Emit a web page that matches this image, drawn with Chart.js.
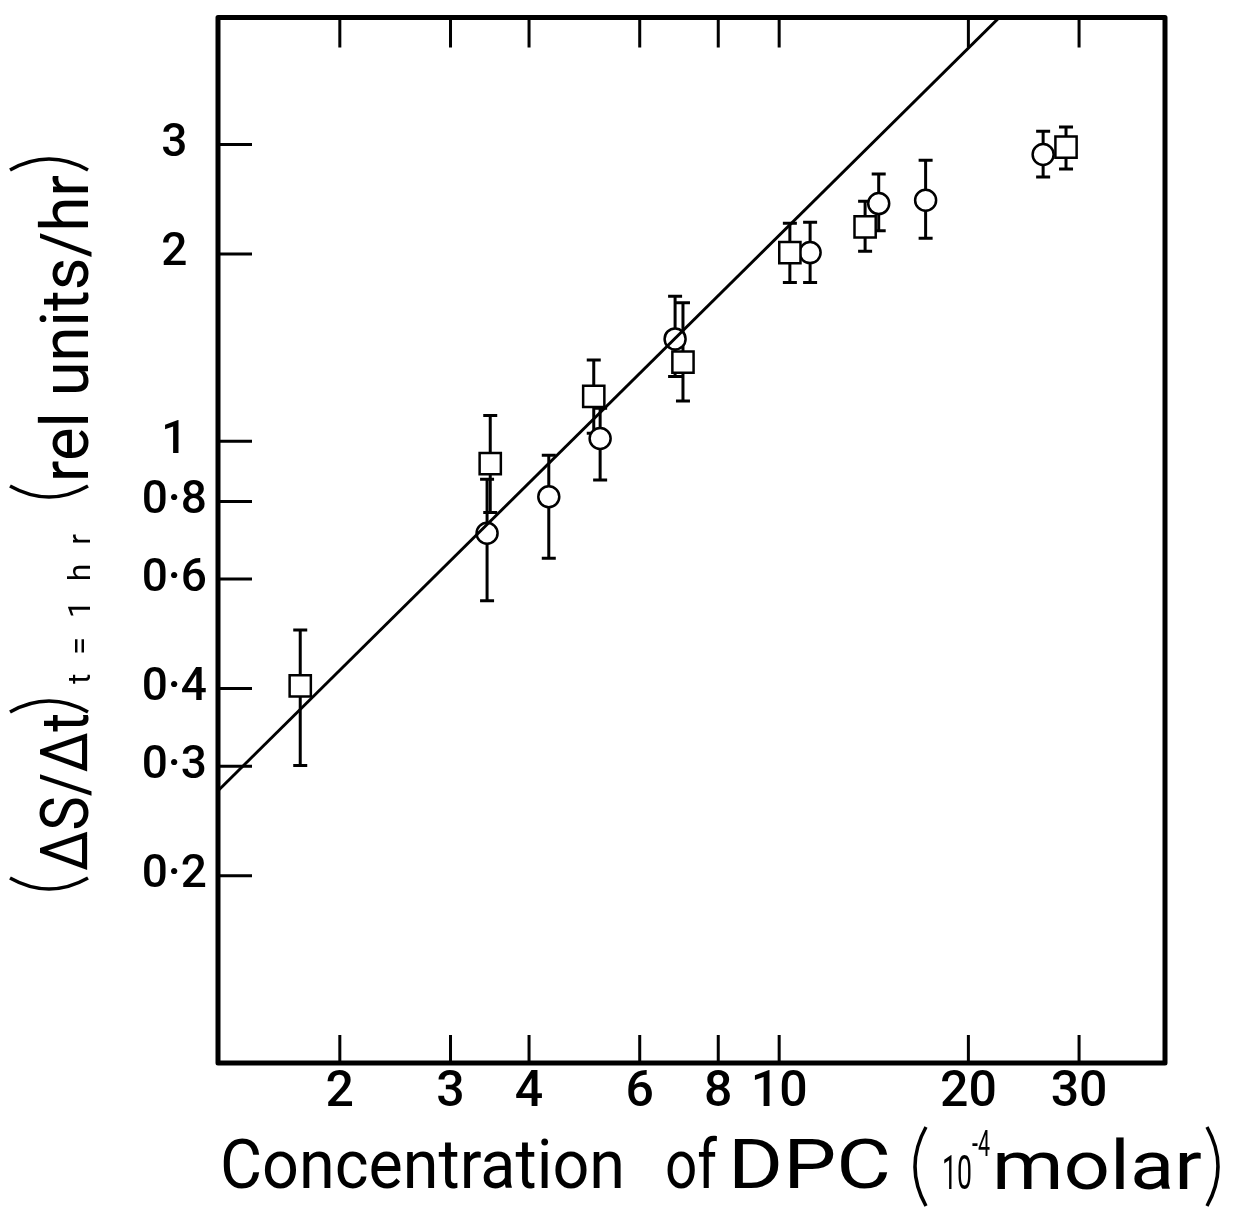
<!DOCTYPE html>
<html>
<head>
<meta charset="utf-8">
<script src="https://cdn.jsdelivr.net/npm/chart.js@4.4.1/dist/chart.umd.min.js"></script>
<style>
  html, body { margin: 0; padding: 0; background: #fff; }
  #wrap { width: 1236px; height: 1209px; }
</style>
</head>
<body>
<div id="wrap"><canvas id="dpcChart" width="1236" height="1209"></canvas></div>
<script>
// square markers: concentration (10^-4 M), rate, error limits
const SQUARE_CONC = [1.73, 3.47, 5.07, 7.03, 10.4, 13.7, 28.6];
const SQUARE_RATE = [0.404, 0.92, 1.18, 1.34, 2.01, 2.21, 2.97];
const SQUARE_HIGH = [0.497, 1.10, 1.35, 1.67, 2.24, 2.43, 3.20];
const SQUARE_LOW  = [0.301, 0.768, 1.03, 1.16, 1.80, 2.02, 2.74];

// circle markers
const CIRCLE_CONC = [3.43, 4.30, 5.19, 6.83, 11.2, 14.4, 17.1, 26.3];
const CIRCLE_RATE = [0.711, 0.814, 1.01, 1.46, 2.01, 2.41, 2.44, 2.89];
const CIRCLE_HIGH = [0.868, 0.949, 1.13, 1.71, 2.25, 2.69, 2.83, 3.15];
const CIRCLE_LOW  = [0.554, 0.648, 0.866, 1.27, 1.80, 2.18, 2.12, 2.66];

// fitted straight line (ends)
const FIT_CONC = [1.28, 22.4];
const FIT_RATE = [0.274, 4.8];

const X_TICKS = [2, 3, 4, 6, 8, 10, 20, 30];
const X_TICK_LABELS = ['2', '3', '4', '6', '8', '10', '20', '30'];
const Y_TICKS = [0.2, 0.3, 0.4, 0.6, 0.8, 1, 2, 3];
const Y_TICK_LABELS = ['0·2', '0·3', '0·4', '0·6', '0·8', '1', '2', '3'];

const FONT = 'Roboto, "DejaVu Sans", sans-serif';

function fitText(ctx, text, x, y, width) {
    const w = ctx.measureText(text).width;
    ctx.save();
    ctx.translate(x, y);
    ctx.scale(width / w, 1);
    ctx.fillText(text, 0, 0);
    ctx.restore();
}

// spread characters over a given width
function spacedText(ctx, text, x, y, width) {
    const chars = text.split('');
    const total = chars.reduce((s, c) => s + ctx.measureText(c).width, 0);
    const gap = (width - total) / (chars.length - 1);
    let cx = x;
    chars.forEach(c => {
        ctx.fillText(c, cx, y);
        cx += ctx.measureText(c).width + gap;
    });
}

function paren(ctx, endX, ctrlX, y1, y2) {
    ctx.beginPath();
    ctx.moveTo(endX, y1);
    ctx.quadraticCurveTo(ctrlX, (y1 + y2) / 2, endX, y2);
    ctx.stroke();
}

const errorBars = {
    id: 'errorBars',
    beforeDatasetsDraw(chart) {
        const {ctx, scales: {x, y}} = chart;
        ctx.save();
        ctx.strokeStyle = '#000';
        ctx.lineWidth = 3;
        const draw = (xs, lo, hi) => {
            xs.forEach((v, i) => {
                const px = x.getPixelForValue(v);
                const pLo = y.getPixelForValue(lo[i]);
                const pHi = y.getPixelForValue(hi[i]);
                ctx.beginPath();
                ctx.moveTo(px, pLo); ctx.lineTo(px, pHi);
                ctx.moveTo(px - 7, pLo); ctx.lineTo(px + 7, pLo);
                ctx.moveTo(px - 7, pHi); ctx.lineTo(px + 7, pHi);
                ctx.stroke();
            });
        };
        draw(SQUARE_CONC, SQUARE_LOW, SQUARE_HIGH);
        draw(CIRCLE_CONC, CIRCLE_LOW, CIRCLE_HIGH);
        ctx.restore();
    }
};

const frameAndTicks = {
    id: 'frameAndTicks',
    afterDraw(chart) {
        const {ctx, chartArea: a, scales: {x, y}} = chart;
        ctx.save();
        ctx.strokeStyle = '#000';
        ctx.lineWidth = 3;
        ctx.beginPath();
        x.ticks.forEach(t => {
            const px = x.getPixelForValue(t.value);
            ctx.moveTo(px, a.bottom); ctx.lineTo(px, a.bottom - 28);
            ctx.moveTo(px, a.top); ctx.lineTo(px, a.top + 30);
        });
        y.ticks.forEach(t => {
            const py = y.getPixelForValue(t.value);
            ctx.moveTo(a.left, py); ctx.lineTo(a.left + 34, py);
        });
        ctx.stroke();
        ctx.lineWidth = 5;
        ctx.lineJoin = 'round';
        ctx.strokeRect(a.left, a.top, a.right - a.left, a.bottom - a.top);
        ctx.restore();
    }
};

const titles = {
    id: 'titles',
    afterDraw(chart) {
        const ctx = chart.ctx;
        ctx.save();
        ctx.fillStyle = '#000';
        ctx.strokeStyle = '#000';
        ctx.textBaseline = 'alphabetic';
        ctx.textAlign = 'left';

        // x axis title
        ctx.font = '400 68px ' + FONT;
        fitText(ctx, 'Concentration', 220, 1188, 405);
        fitText(ctx, 'of', 665, 1188, 52);
        fitText(ctx, 'DPC', 728, 1188, 163);
        ctx.font = '400 48px ' + FONT;
        fitText(ctx, '10', 942, 1189, 30);
        ctx.font = '400 36px ' + FONT;
        fitText(ctx, '-4', 972, 1156, 18);
        ctx.font = '400 68px ' + FONT;
        fitText(ctx, 'molar', 992, 1189, 210);
        ctx.lineWidth = 3.5;
        paren(ctx, 926, 904, 1127, 1206);
        paren(ctx, 1207, 1229, 1127, 1206);

        // y axis title, rotated
        ctx.rotate(-Math.PI / 2);
        ctx.font = '400 66px ' + FONT;
        fitText(ctx, 'ΔS/Δt', -871, 88, 158);
        fitText(ctx, 'rel units/hr', -482, 88, 307);
        ctx.font = '400 32px ' + FONT;
        spacedText(ctx, 't=1hr', -684, 90, 150);
        paren(ctx, -878, -900, 10, 88);
        paren(ctx, -712, -690, 10, 88);
        paren(ctx, -486, -508, 10, 88);
        paren(ctx, -170, -148, 10, 88);
        ctx.restore();
    }
};

const canvas = document.getElementById('dpcChart');
const ctx = canvas.getContext('2d');

new Chart(ctx, {
    type: 'scatter',
    data: {
        datasets: [
            {
                label: 'fit',
                data: FIT_CONC.map((v, i) => ({x: v, y: FIT_RATE[i]})),
                showLine: true,
                borderColor: '#000',
                borderWidth: 3,
                pointRadius: 0
            },
            {
                label: 'squares',
                data: SQUARE_CONC.map((v, i) => ({x: v, y: SQUARE_RATE[i]})),
                pointStyle: 'rect',
                pointRadius: 15,
                borderColor: '#000',
                backgroundColor: '#fff',
                borderWidth: 2.5
            },
            {
                label: 'circles',
                data: CIRCLE_CONC.map((v, i) => ({x: v, y: CIRCLE_RATE[i]})),
                pointStyle: 'circle',
                pointRadius: 10.5,
                borderColor: '#000',
                backgroundColor: '#fff',
                borderWidth: 2.5
            }
        ]
    },
    options: {
        responsive: false,
        animation: false,
        devicePixelRatio: 1,
        layout: {
            padding: { top: 12, right: 71, left: 0, bottom: 0 }
        },
        scales: {
            x: {
                type: 'logarithmic',
                min: 1.28,
                max: 41.1,
                afterFit: (s) => { s.height = 146; s.paddingLeft = 0; s.paddingRight = 0; },
                afterBuildTicks: (s) => { s.ticks = X_TICKS.map(v => ({value: v})); },
                grid: { display: false, drawTicks: false },
                border: { display: false },
                ticks: {
                    autoSkip: false,
                    maxRotation: 0,
                    padding: 0,
                    color: '#000',
                    font: { family: FONT, size: 50, weight: '500' },
                    callback: (v, i) => X_TICK_LABELS[i]
                }
            },
            y: {
                type: 'logarithmic',
                min: 0.1,
                max: 4.8,
                afterFit: (s) => { s.width = 218; s.paddingTop = 0; s.paddingBottom = 0; },
                afterBuildTicks: (s) => { s.ticks = Y_TICKS.map(v => ({value: v})); },
                grid: { display: false, drawTicks: false },
                border: { display: false },
                ticks: {
                    autoSkip: false,
                    crossAlign: 'center',
                    padding: 11,
                    color: '#000',
                    font: { family: FONT, size: 46, weight: '500' },
                    callback: (v, i) => Y_TICK_LABELS[i]
                }
            }
        },
        plugins: {
            legend: { display: false },
            tooltip: { enabled: false }
        }
    },
    plugins: [errorBars, frameAndTicks, titles]
});
</script>
</body>
</html>
